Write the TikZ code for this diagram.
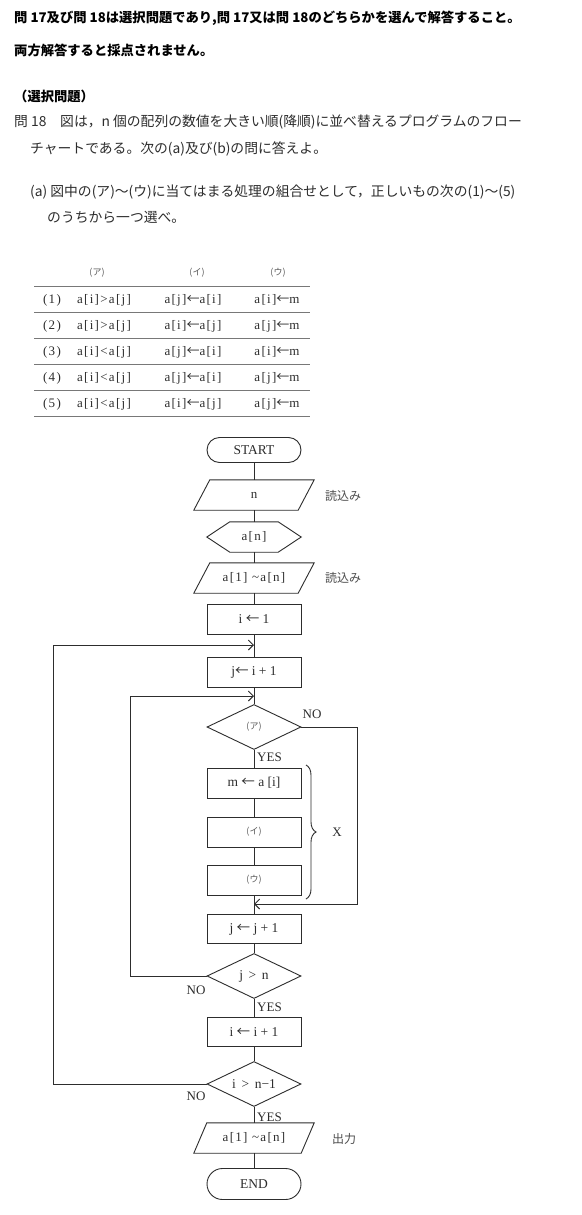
\documentclass[tikz,border=0pt]{standalone}
\usepackage{fontspec}
\setmainfont{Noto Sans CJK JP}
\newfontfamily\lat{Liberation Serif}
\newfontfamily\latw[LetterSpace=10]{Liberation Serif}
\newcommand\lar{{\normalfont ←}}
\usetikzlibrary{shapes.geometric,shapes.misc,arrows.meta,decorations.pathreplacing}
\definecolor{ink}{RGB}{45,45,45}
\definecolor{rule}{RGB}{120,120,120}
\tikzset{
  ln/.style={draw=ink, line width=0.9pt},
  arr/.style={ln, -{Straight Barb[length=5pt,width=10pt]}},
  ft/.style={font=\lat\fontsize{13.5}{15}\selectfont, text=ink},
  fw/.style={font=\latw\fontsize{13}{15}\selectfont, text=ink},
  kana/.style={font=\normalfont\fontsize{9}{11}\selectfont, text=black!65},
  jtxt/.style={font=\normalfont\fontsize{12}{14}\selectfont, text=black!70},
  box/.style={ln, rectangle, minimum width=94pt, minimum height=30pt, inner sep=0pt, ft},
  dia/.style={ln, diamond, minimum width=94pt, minimum height=45pt, inner sep=0pt, aspect=2, ft},
  term/.style={ln, rounded rectangle, minimum width=94pt, inner sep=0pt, ft},
  io/.style={rectangle, inner sep=0pt, minimum height=30pt, fw},
  head/.style={anchor=west, inner sep=0pt, font=\bfseries\fontsize{13.3}{15}\selectfont, text=black},
  body/.style={anchor=west, inner sep=0pt, font=\normalfont\fontsize{13.8}{16}\selectfont, text=ink},
  cell/.style={inner sep=0pt, fw},
  lab/.style={inner sep=0pt, ft, font=\lat\fontsize{13}{15}\selectfont},
  trule/.style={draw=rule, line width=1.2pt}
}
\newcommand\kn[1]{{\normalfont\fontsize{9}{11}\selectfont\color{black!65}#1}}
\begin{document}
\begin{tikzpicture}[x=1pt,y=-1pt]
\useasboundingbox[fill=white] (0,0) rectangle (581,1215);

% --- header text ---
\node[head] (t1) at (14,18) {問 17及び問 18は選択問題であり,問 17又は問 18のどちらかを選んで解答すること。};
\node[head] (t2) at (14,50) {両方解答すると採点されません。};
\node[head] (t3) at (14,96) {（選択問題）};
\node[body] (t4) at (14,122) {問 18　図は，n 個の配列の数値を大きい順(降順)に並べ替えるプログラムのフロー};
\node[body] (t5) at (30,149) {チャートである。次の(a)及び(b)の問に答えよ。};
\node[body] (t6) at (30,192) {(a) 図中の(ア)〜(ウ)に当てはまる処理の組合せとして，正しいもの次の(1)〜(5)};
\node[body] (t7) at (47,217) {のうちから一つ選べ。};

% --- table ---
\node[kana] (hA) at (97,273) {(ア)};
\node[kana] (hB) at (197,273) {(イ)};
\node[kana] (hC) at (278,273) {(ウ)};
\foreach \y in {286.5,312.5,338.5,364.5,390.5,416.5} \draw[trule] (34,\y) -- (310,\y);
\node[cell] (r1) at (52,300) {(1)};
\node[cell] (r1a) at (104,300) {a[i]>a[j]};
\node[cell] (r1b) at (193,300) {a[j]\lar a[i]};
\node[cell] (r1c) at (277,300) {a[i]\lar m};
\node[cell] (r2) at (52,326) {(2)};
\node[cell] (r2a) at (104,326) {a[i]>a[j]};
\node[cell] (r2b) at (193,326) {a[i]\lar a[j]};
\node[cell] (r2c) at (277,326) {a[j]\lar m};
\node[cell] (r3) at (52,352) {(3)};
\node[cell] (r3a) at (104,352) {a[i]<a[j]};
\node[cell] (r3b) at (193,352) {a[j]\lar a[i]};
\node[cell] (r3c) at (277,352) {a[i]\lar m};
\node[cell] (r4) at (52,378) {(4)};
\node[cell] (r4a) at (104,378) {a[i]<a[j]};
\node[cell] (r4b) at (193,378) {a[j]\lar a[i]};
\node[cell] (r4c) at (277,378) {a[j]\lar m};
\node[cell] (r5) at (52,404) {(5)};
\node[cell] (r5a) at (104,404) {a[i]<a[j]};
\node[cell] (r5b) at (193,404) {a[i]\lar a[j]};
\node[cell] (r5c) at (277,404) {a[j]\lar m};

% --- flowchart nodes ---
\node[term, minimum height=25pt] (start) at (254,450) {START};
\node[io, minimum width=104pt] (inN) at (254,495) {n};
\draw[ln] ([xshift=8pt]inN.north west) -- ([xshift=8pt]inN.north east) -- ([xshift=-8pt]inN.south east) -- ([xshift=-8pt]inN.south west) -- cycle;
\node[io, minimum width=94pt] (hex) at (254,537) {a[n]};
\draw[ln] (hex.west) -- ([xshift=23pt]hex.north west) -- ([xshift=-23pt]hex.north east) -- (hex.east) -- ([xshift=-23pt]hex.south east) -- ([xshift=23pt]hex.south west) -- cycle;
\node[io, minimum width=104pt] (inA) at (254,578) {a[1] \textasciitilde a[n]};
\draw[ln] ([xshift=8pt]inA.north west) -- ([xshift=8pt]inA.north east) -- ([xshift=-8pt]inA.south east) -- ([xshift=-8pt]inA.south west) -- cycle;
\node[box] (i1) at (254,619) {i \lar\ 1};
\node[box] (j1) at (254,672) {j\lar\ i + 1};
\node[dia] (dA) at (254,727) {\kn{(ア)}};
\node[box] (m) at (254,783) {m \lar\ a [i]};
\node[box] (pB) at (254,832) {\kn{(イ)}};
\node[box] (pC) at (254,880) {\kn{(ウ)}};
\node[box, minimum height=29pt] (jj) at (254,929) {j \lar\ j + 1};
\node[dia] (djn) at (254,976) {j \,>\, n};
\node[box, minimum height=29pt] (ii) at (254,1032) {i \lar\ i + 1};
\node[dia] (din) at (254,1084) {i \,>\, n−1};
\node[io, minimum width=107pt] (out) at (254,1138) {a[1] \textasciitilde a[n]};
\draw[ln] ([xshift=6.5pt]out.north west) -- ([xshift=6.5pt]out.north east) -- ([xshift=-6.5pt]out.south east) -- ([xshift=-6.5pt]out.south west) -- cycle;
\node[term, minimum height=31pt] (end) at (254,1184) {END};

% side labels
\node[jtxt, anchor=west, inner sep=0pt] (l1) at (325,496) {読込み};
\node[jtxt, anchor=west, inner sep=0pt] (l2) at (325,578) {読込み};
\node[jtxt, anchor=west, inner sep=0pt] (l3) at (332,1139) {出力};

% main line
\draw[ln] (start.south) -- (inN.north);
\draw[ln] (inN.south) -- (hex.north);
\draw[ln] (hex.south) -- (inA.north);
\draw[ln] (inA.south) -- (i1.north);
\draw[ln] (i1.south) -- (j1.north);
\draw[ln] (j1.south) -- (dA.north);
\draw[ln] (dA.south) -- (m.north);
\draw[ln] (m.south) -- (pB.north);
\draw[ln] (pB.south) -- (pC.north);
\draw[ln] (pC.south) -- (jj.north);
\draw[ln] (jj.south) -- (djn.north);
\draw[ln] (djn.south) -- (ii.north);
\draw[ln] (ii.south) -- (din.north);
\draw[ln] (din.south) -- (out.north);
\draw[ln] (out.south) -- (end.north);

% loops
\coordinate (o1) at (53,1084);
\coordinate (o2) at (53,645);
\coordinate (o3) at (254,645);
\draw[arr] (din.west) -- (o1) -- (o2) -- (o3);
\coordinate (p1) at (130,976);
\coordinate (p2) at (130,696);
\coordinate (p3) at (254,696);
\draw[arr] (djn.west) -- (p1) -- (p2) -- (p3);
\coordinate (q1) at (357,727);
\coordinate (q2) at (357,904);
\coordinate (q3) at (254,904);
\draw[arr] (dA.east) -- (q1) -- (q2) -- (q3);

% YES / NO labels
\node[lab] (noA) at (312,714) {NO};
\node[lab, anchor=west] (yesA) at (257,757) {YES};
\node[lab] (noB) at (196,990) {NO};
\node[lab, anchor=west] (yesB) at (257,1007) {YES};
\node[lab] (noC) at (196,1096) {NO};
\node[lab, anchor=west] (yesC) at (257,1117) {YES};

% brace
\coordinate (b1) at (306,765);
\coordinate (b2) at (306,899);
\draw[ln, decorate, decoration={brace, amplitude=10pt}] (b1) -- (b2);
\node[lab] (X) at (337,832) {X};
\end{tikzpicture}
\end{document}
